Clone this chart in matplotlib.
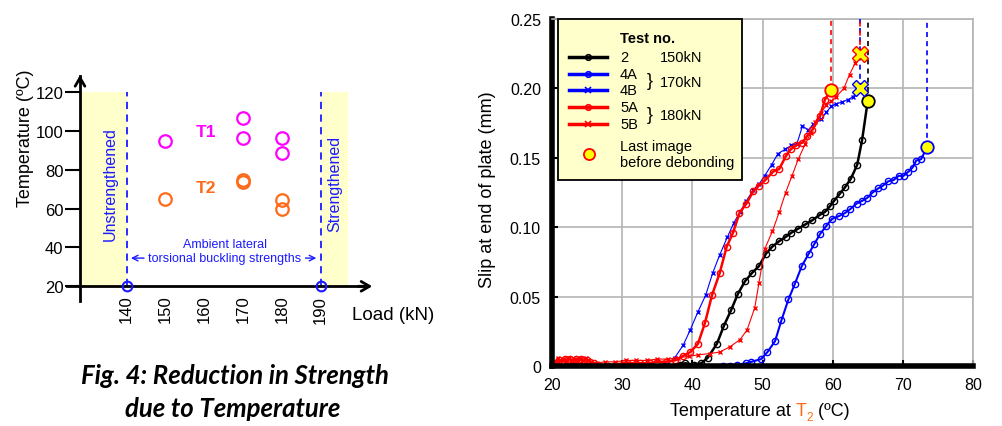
import matplotlib
matplotlib.use("Agg")
import matplotlib.pyplot as plt
from matplotlib.patches import Rectangle
from matplotlib.lines import Line2D

plt.rcParams['font.family'] = ['Liberation Sans', 'DejaVu Sans']

# left chart: temperature at debonding vs load
t1_load = [150, 170, 170, 180, 180]
t1_temp = [94.5, 106.5, 96.2, 96.3, 88.5]
t2_load = [150, 170, 170, 180, 180]
t2_temp = [65.0, 73.5, 74.5, 64.3, 59.8]
ambient_load = [140, 190]
ambient_temp = [20, 20]
load_ticks = [140, 150, 160, 170, 180, 190]
temp_ticks = [20, 40, 60, 80, 100, 120]

# right chart: slip vs temperature at T2
s2_T = [20.0, 21.0, 22.0, 23.0, 24.0, 25.0, 26.0, 28.0, 30.0, 32.0, 34.0, 36.0, 38.2, 39.0,
        40.2, 41.3, 42.2, 43.5, 44.5, 45.5, 46.5, 47.5, 48.5, 49.5, 50.5, 51.4, 52.4, 53.3,
        54.1, 55.1, 56.1, 57.1, 58.2, 58.9, 59.6, 60.2, 61.0, 61.8, 62.6, 63.5, 64.2, 65.0]
s2_slip = [0, 0, 0, 0, 0, 0, 0, 0, 0, 0, 0, 0, 0.001, 0.002,
           0.001, 0.002, 0.006, 0.016, 0.029, 0.040, 0.052, 0.061, 0.067, 0.072, 0.081, 0.086, 0.090, 0.093,
           0.096, 0.099, 0.102, 0.105, 0.109, 0.111, 0.115, 0.119, 0.124, 0.129, 0.135, 0.145, 0.163, 0.191]

s4a_T = [25.0, 25.6, 44.4, 45.4, 46.3, 47.7, 48.4, 49.8, 50.7, 51.8, 52.7, 53.7, 54.6, 55.6,
         56.6, 57.4, 58.2, 59.1, 59.9, 60.9, 61.7, 62.5, 63.4, 64.2, 64.9, 65.7, 66.5, 67.2,
         67.9, 68.7, 69.4, 70.1, 70.8, 71.4, 71.9, 72.6, 73.5]
s4a_slip = [0, 0, 0, 0, 0.001, 0.002, 0.003, 0.005, 0.010, 0.018, 0.033, 0.048, 0.059, 0.072,
            0.081, 0.088, 0.095, 0.101, 0.106, 0.108, 0.110, 0.113, 0.117, 0.119, 0.121, 0.125, 0.128, 0.130,
            0.133, 0.134, 0.137, 0.137, 0.140, 0.143, 0.148, 0.149, 0.158]

s4b_T = [35.0, 36.1, 37.5, 38.7, 39.7, 40.8, 41.9, 42.9, 43.9, 45.0, 45.9, 46.8, 47.7, 48.7,
         49.5, 50.3, 51.3, 52.2, 53.2, 54.1, 54.9, 55.7, 56.5, 57.2, 58.4, 59.1, 59.8, 60.5,
         61.3, 62.2, 62.9, 63.9]
s4b_slip = [0, 0, 0.006, 0.015, 0.026, 0.039, 0.051, 0.067, 0.080, 0.093, 0.103, 0.111, 0.119, 0.127,
            0.131, 0.137, 0.145, 0.153, 0.156, 0.159, 0.160, 0.173, 0.170, 0.174, 0.178, 0.183, 0.187, 0.189,
            0.190, 0.192, 0.194, 0.200]

s5a_T = [20.6, 21.0, 21.4, 21.8, 22.2, 22.6, 23.0, 23.4, 23.8, 24.2, 24.6, 25.0, 25.4, 26.0,
         27.8, 29.0, 30.2, 31.4, 32.6, 33.9, 35.0, 36.2, 37.5, 38.6, 39.7, 40.8, 41.8, 42.8,
         43.9, 44.9, 45.8, 46.7, 47.7, 48.7, 49.5, 50.4, 51.5, 52.4, 53.3, 54.0, 54.8, 55.7,
         56.4, 57.1, 58.2, 58.9, 59.8]
s5a_slip = [0.002, 0.004, 0.003, 0.005, 0.004, 0.005, 0.003, 0.005, 0.004, 0.005, 0.004, 0.004, 0.003, 0.002,
            0.000, 0.001, 0.002, 0.002, 0.002, 0.002, 0.003, 0.003, 0.004, 0.007, 0.010, 0.016, 0.031, 0.051,
            0.067, 0.086, 0.096, 0.110, 0.117, 0.126, 0.130, 0.134, 0.140, 0.142, 0.151, 0.156, 0.159, 0.161,
            0.166, 0.170, 0.180, 0.192, 0.199]

s5b_T = [20.4, 20.8, 21.2, 21.6, 22.0, 22.4, 22.8, 23.2, 23.6, 24.0, 24.4, 24.8, 25.2, 25.6,
         26.4, 27.5, 29.0, 30.5, 32.0, 33.5, 35.0, 36.5, 38.0, 39.5, 40.8, 42.5, 43.9, 45.4,
         46.8, 47.8, 48.9, 49.5, 50.3, 51.4, 52.4, 53.3, 54.2, 55.1, 56.1, 56.9, 57.5, 58.3,
         59.1, 59.8, 60.5, 61.6, 62.4, 63.2, 63.9]
s5b_slip = [0.003, 0.006, 0.004, 0.005, 0.003, 0.006, 0.004, 0.005, 0.003, 0.005, 0.004, 0.006, 0.004, 0.003,
            0.002, 0.003, 0.003, 0.004, 0.004, 0.004, 0.005, 0.005, 0.006, 0.007, 0.008, 0.009, 0.010, 0.014,
            0.019, 0.026, 0.042, 0.060, 0.084, 0.097, 0.111, 0.125, 0.137, 0.149, 0.160, 0.168, 0.176, 0.182,
            0.188, 0.191, 0.194, 0.200, 0.210, 0.218, 0.225]

W, H = 1002, 427
fig = plt.figure(figsize=(W / 100, H / 100), dpi=100)


def px(x, y):
    return x / W, 1 - y / H


blue = '#1a1aff'
orange = '#ff6a1a'
magenta = '#ff00ff'
pale = '#ffffcc'

# ---------------- left chart
ax1 = fig.add_axes([80 / W, 1 - 287.3 / H, 295 / W, 212 / H])
ax1.set_xlim(128, 204)
ax1.set_ylim(20, 129)
for s in ax1.spines.values():
    s.set_visible(False)
ax1.patch.set_alpha(0)

ax1.add_patch(Rectangle((128, 20), 12, 100, facecolor=pale, edgecolor='none', zorder=0))
ax1.add_patch(Rectangle((190, 20), 7, 100, facecolor=pale, edgecolor='none', zorder=0))
for L in ambient_load:
    ax1.plot([L, L], [20, 120], color=blue, lw=1.3, ls=(0, (4, 3)), zorder=1)
ax1.plot(ambient_load, ambient_temp, 'o', ms=7, mfc='none', mec=blue, mew=1.5, zorder=5, clip_on=False)

ax1.plot(t1_load, t1_temp, 'o', ms=9, mfc='none', mec=magenta, mew=1.6)
ax1.plot(t2_load, t2_temp, 'o', ms=9, mfc='none', mec=orange, mew=1.6)
ax1.text(160.5, 99.5, 'T1', color=magenta, fontsize=12.5, fontweight='bold', ha='center', va='center')
ax1.text(160.5, 71, 'T2', color=orange, fontsize=12.5, fontweight='bold', ha='center', va='center')

ax1.text(135.7, 73, 'Unstrengthened', color=blue, fontsize=11.5, rotation=90, ha='center', va='center')
ax1.text(193.6, 73, 'Strengthened', color=blue, fontsize=11.5, rotation=90, ha='center', va='center')
ax1.text(165.3, 41.7, 'Ambient lateral', color=blue, fontsize=9, ha='center', va='center')
ax1.text(165.3, 34.5, 'torsional buckling strengths', color=blue, fontsize=9, ha='center', va='center')
ax1.annotate('', xy=(140.4, 34.5), xytext=(145.2, 34.5),
             arrowprops=dict(arrowstyle='->', color=blue, lw=1))
ax1.annotate('', xy=(189.6, 34.5), xytext=(185.4, 34.5),
             arrowprops=dict(arrowstyle='->', color=blue, lw=1))

# axes drawn as arrows
ax1.plot([128, 128], [12.6, 128], color='k', lw=2, clip_on=False, zorder=3)
ax1.annotate('', xy=(128, 130), xytext=(128, 124), annotation_clip=False,
             arrowprops=dict(arrowstyle='->,head_length=0.6,head_width=0.35', color='k', lw=2))
ax1.plot([124.6, 202], [20, 20], color='k', lw=2, clip_on=False, zorder=3)
ax1.annotate('', xy=(204, 20), xytext=(199, 20), annotation_clip=False,
             arrowprops=dict(arrowstyle='->,head_length=0.6,head_width=0.35', color='k', lw=2))

ax1.set_xticks(load_ticks)
ax1.set_xticklabels([str(v) for v in load_ticks], rotation=90, fontsize=12)
ax1.set_yticks(temp_ticks)
ax1.set_yticklabels([str(v) for v in temp_ticks], fontsize=12)
ax1.tick_params(axis='x', length=0, pad=6)
ax1.tick_params(axis='y', length=11, width=1.5, pad=1)

fig.text(*px(26, 138), 'Temperature (ºC)', rotation=90, fontsize=13, ha='center', va='center')
fig.text(*px(352, 315), 'Load (kN)', fontsize=13.5, ha='left', va='center')

fig.text(*px(235, 376), 'Fig. 4: Reduction in Strength', family='Lato', fontsize=18.5,
         fontweight='bold', style='italic', ha='center', va='center')
fig.text(*px(233, 409), 'due to Temperature', family='Lato', fontsize=18.5,
         fontweight='bold', style='italic', ha='center', va='center')

# ---------------- right chart
ax2 = fig.add_axes([552 / W, 1 - 367 / H, 421 / W, 347 / H])
ax2.set_xlim(20, 80)
ax2.set_ylim(0, 0.25)
ax2.grid(True, color='#b4b4b4', lw=1.2)
ax2.set_axisbelow(True)
ax2.spines['left'].set_linewidth(4)
ax2.spines['bottom'].set_linewidth(4)
ax2.spines['top'].set_color('#b4b4b4')
ax2.spines['right'].set_color('#b4b4b4')
ax2.spines['top'].set_linewidth(1.2)
ax2.spines['right'].set_linewidth(1.2)
ax2.set_xticks([20, 30, 40, 50, 60, 70, 80])
ax2.set_yticks([0, 0.05, 0.10, 0.15, 0.20, 0.25])
ax2.set_yticklabels(['0', '0.05', '0.10', '0.15', '0.20', '0.25'], fontsize=11.5)
ax2.set_xticklabels(['20', '30', '40', '50', '60', '70', '80'], fontsize=11.5)
ax2.tick_params(direction='in', length=4, width=1.5, pad=8)

series = [
    (s2_T, s2_slip, 'black', 'o', 1.8, 4.5),
    (s4a_T, s4a_slip, '#0000ff', 'o', 1.5, 4.5),
    (s4b_T, s4b_slip, '#0000ff', 'x', 0.8, 3.5),
    (s5a_T, s5a_slip, '#ff0000', 'o', 1.8, 4.5),
    (s5b_T, s5b_slip, '#ff0000', 'x', 0.8, 3.5),
]
for T, s, c, m, lw, ms in series:
    ax2.plot(T, s, color=c, lw=lw, marker=m, ms=ms, mfc='none', mec=c, mew=1.0)

# last image before debonding + dashed line to top
for T, s, c, m, lw, ms in series:
    ax2.plot([T[-1], T[-1]], [s[-1], 0.25], color=c, lw=1.2, ls=(0, (3, 2.5)), zorder=3)
for T, s, c, m, lw, ms in series:
    if m == 'o':
        ax2.plot(T[-1], s[-1], 'o', ms=9, mfc='yellow', mec=c, mew=1.3, zorder=6)
    else:
        ax2.plot(T[-1], s[-1], 'X', ms=11, mfc='yellow', mec=c, mew=1.0, zorder=6)

fig.text(*px(488, 190), 'Slip at end of plate (mm)', rotation=90, fontsize=13, ha='center', va='center')

# x label with orange T2
r = fig.canvas.get_renderer()
t_a = fig.text(*px(670, 412), 'Temperature at ', fontsize=13, ha='left', va='center')
bb = t_a.get_window_extent(r)
t_b = fig.text(bb.x1 / W, 1 - 412 / H, 'T', color=orange, fontsize=13, ha='left', va='center')
bb = t_b.get_window_extent(r)
t_c = fig.text(bb.x1 / W, 1 - 418 / H, '2', color=orange, fontsize=8.5, ha='left', va='center')
bb = t_c.get_window_extent(r)
fig.text(bb.x1 / W, 1 - 412 / H, ' (ºC)', fontsize=13, ha='left', va='center')

# legend drawn by hand
fig.add_artist(Rectangle(px(558, 181), 184 / W, 161 / H, transform=fig.transFigure,
                         facecolor=pale, edgecolor='black', lw=1.3, zorder=10))
fig.text(*px(620, 39), 'Test no.', fontsize=10.5, fontweight='bold', ha='left', va='center', zorder=11)
leg_rows = [('2', 58, 'black', 'o'), ('4A', 75, '#0000ff', 'o'), ('4B', 91, '#0000ff', 'x'),
            ('5A', 108, '#ff0000', 'o'), ('5B', 125, '#ff0000', 'x')]
for lab, y, c, m in leg_rows:
    x0, yy = px(569, y)
    x1, _ = px(607, y)
    fig.add_artist(Line2D([x0, x1], [yy, yy], color=c, lw=2.5, transform=fig.transFigure, zorder=11))
    fig.add_artist(Line2D([(x0 + x1) / 2], [yy], marker=m, ms=4, mfc='none', mec=c, mew=1.2,
                          transform=fig.transFigure, zorder=12))
    fig.text(*px(620, y), lab, fontsize=10.5, ha='left', va='center', zorder=11)
fig.text(*px(660, 58), '150kN', fontsize=10.5, ha='left', va='center', zorder=11)
fig.text(*px(647, 82), '}', fontsize=13, ha='left', va='center', zorder=11)
fig.text(*px(660, 83), '170kN', fontsize=10.5, ha='left', va='center', zorder=11)
fig.text(*px(647, 115), '}', fontsize=13, ha='left', va='center', zorder=11)
fig.text(*px(660, 116), '180kN', fontsize=10.5, ha='left', va='center', zorder=11)
fig.add_artist(Line2D([px(589, 155)[0]], [px(589, 155)[1]], marker='o', ms=8, mfc='yellow',
                      mec='#ff0000', mew=1.3, transform=fig.transFigure, zorder=12))
fig.text(*px(620, 147), 'Last image', fontsize=10.5, ha='left', va='center', zorder=11)
fig.text(*px(620, 163), 'before debonding', fontsize=10.5, ha='left', va='center', zorder=11)

fig.savefig('out.png', dpi=100)
